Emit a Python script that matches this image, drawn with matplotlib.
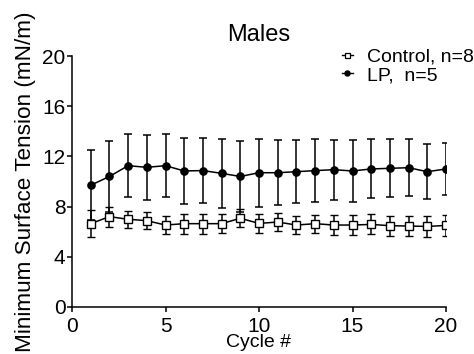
import matplotlib
matplotlib.use("Agg")
import matplotlib.pyplot as plt
from matplotlib.lines import Line2D

plt.rcParams['font.family'] = ['Liberation Sans', 'DejaVu Sans']

cycles = list(range(1, 21))
control_mean = [6.64, 7.2, 6.99, 6.88, 6.53, 6.64, 6.64, 6.64, 7.07, 6.66,
                6.77, 6.53, 6.64, 6.53, 6.53, 6.58, 6.48, 6.45, 6.42, 6.5]
control_err = [1.1, 0.8, 0.66, 0.67, 0.75, 0.8, 0.8, 0.75, 0.72, 0.75,
               0.75, 0.75, 0.72, 0.83, 0.83, 0.8, 0.8, 0.8, 0.85, 0.85]
lp_mean = [9.7, 10.4, 11.26, 11.13, 11.26, 10.84, 10.87, 10.65, 10.4, 10.7,
           10.7, 10.78, 10.87, 10.94, 10.84, 11.0, 11.05, 11.1, 10.78, 11.0]
lp_err = [2.8, 2.8, 2.5, 2.6, 2.5, 2.66, 2.6, 2.75, 2.8, 2.7,
          2.6, 2.5, 2.5, 2.4, 2.5, 2.35, 2.3, 2.25, 2.2, 2.1]

fig = plt.figure(figsize=(4.74, 3.54), dpi=100)
ax = fig.add_axes([72/474, 1-307/354, (446-72)/474, (307-56)/354])

ax.errorbar(cycles, lp_mean, yerr=lp_err, color='black', marker='o', ms=5.2,
            lw=1.1, elinewidth=1.1, capsize=2.6, capthick=1.1)
ax.errorbar(cycles, control_mean, yerr=control_err, color='black', marker='s', ms=5.2,
            mfc='white', mew=1.0, lw=1.1, elinewidth=1.1, capsize=2.6, capthick=1.1)

ax.set_xlim(0, 20)
ax.set_ylim(0, 20)
ax.set_xticks([0, 5, 10, 15, 20])
ax.set_yticks([0, 4, 8, 12, 16, 20])
for s in ['top', 'right']:
    ax.spines[s].set_visible(False)
for s in ['left', 'bottom']:
    ax.spines[s].set_linewidth(1.1)
ax.tick_params(direction='out', length=3.5, width=1.1, labelsize=15)
ax.tick_params(axis='x', pad=3.5)
ax.tick_params(axis='y', pad=1.2)

ax.set_xlabel('Cycle #', fontsize=14)
ax.xaxis.set_label_coords(0.5, -(334 - 307) / 251)
ax.set_ylabel('Minimum Surface Tension (mN/m)', fontsize=16.2)
ax.yaxis.set_label_coords(-(72 - 36) / 374, 0.5)
ax.set_title('Males', fontsize=17, pad=11)

h_ctrl = Line2D([], [], color='black', marker='s', ms=3.6, mfc='white', mew=0.9, lw=1.0)
h_lp = Line2D([], [], color='black', marker='o', ms=3.6, lw=1.0)
fig.legend([h_ctrl, h_lp], ['Control, n=8', 'LP,  n=5'], loc='upper left',
           bbox_to_anchor=(342/474, 1-48/354), frameon=False, fontsize=14,
           handlelength=0.55, handletextpad=0.75, labelspacing=0.05,
           borderpad=0, borderaxespad=0)

fig.savefig('out.png', dpi=100)
